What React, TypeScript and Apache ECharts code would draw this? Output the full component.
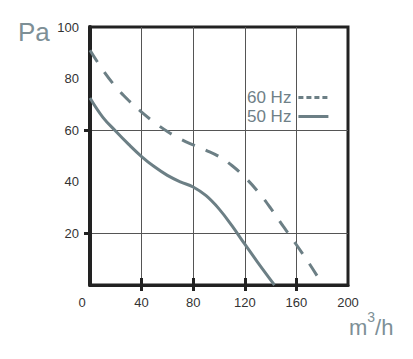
import React, { useEffect, useRef } from "react";
import * as echarts from "echarts";

const xTicks = [0, 40, 80, 120, 160, 200];
const seriesNames = ["60 Hz", "50 Hz"];
const hz60: [number, number][] = [
  [0, 91], [10, 83.3], [20, 76.8], [30, 71.5], [40, 67], [50, 63], [60, 59.5],
  [70, 56.6], [80, 54.3], [90, 52.2], [100, 49.8], [110, 46.3], [120, 41.8],
  [130, 36.3], [140, 29.8], [150, 22.6], [160, 15.6], [170, 8.3], [180.5, 0],
];
const hz50: [number, number][] = [
  [0, 72.5], [10, 65], [20, 59.6], [30, 54.5], [40, 49.8], [50, 45.8], [60, 42.5],
  [70, 40], [80, 38], [90, 34.6], [100, 29.5], [110, 23], [120, 15.8],
  [130, 8.8], [140, 2], [143, 0],
];
const yTickMarks = [20, 60];
const xTickMarks = [40, 80, 120, 160];

const FONT = "'Liberation Sans', Arial, sans-serif";
const CURVE = "#6c7f85";

export default function App() {
  const ref = useRef<HTMLDivElement>(null);
  useEffect(() => {
    const chart = echarts.init(ref.current!, null, { renderer: "svg" });
    chart.setOption({
      animation: false,
      backgroundColor: "#ffffff",
      grid: {
        left: 90, top: 27, width: 258, height: 258,
        show: true, borderColor: "#222", borderWidth: 3,
      },
      legend: {
        orient: "vertical", left: 242, top: 84, align: "right",
        itemWidth: 30, itemHeight: 12, itemGap: 2,
        itemStyle: { opacity: 0 },
        textStyle: { fontFamily: FONT, fontSize: 17, color: "#6f8087", padding: [0, 2, 0, 0] },
        data: [
          { name: seriesNames[0], lineStyle: { type: [5, 3], width: 3 } },
          { name: seriesNames[1], lineStyle: { width: 3 } },
        ],
      },
      xAxis: [
        {
          type: "value", min: 0, max: 200, interval: 40,
          axisLine: { show: true, lineStyle: { color: "#222", width: 3 } },
          axisTick: { show: true, inside: true, length: 7, lineStyle: { color: "#222", width: 3 }, customValues: xTickMarks },
          splitLine: { show: true, lineStyle: { color: "#555", width: 1 } },
          axisLabel: {
            margin: 11, fontFamily: FONT, fontSize: 13, color: "#333",
            customValues: xTicks,
            formatter: (v: number) => (v === 0 ? "{z|0}" : String(v)),
            rich: { z: { fontFamily: FONT, fontSize: 13, color: "#333", padding: [0, 16, 0, 0] } },
          },
        },
        {
          type: "value", min: 0, max: 200, interval: 40, position: "bottom",
          axisLine: { show: false },
          axisTick: { show: true, inside: false, length: 6, lineStyle: { color: "#222", width: 3 }, customValues: xTickMarks },
          splitLine: { show: false },
          axisLabel: { show: false },
        },
      ],
      yAxis: {
        type: "value", min: 0, max: 100, interval: 20,
        axisLine: { show: true, lineStyle: { color: "#222", width: 4 } },
        axisTick: { show: true, length: 6, lineStyle: { color: "#222", width: 3 }, customValues: yTickMarks },
        splitLine: { show: true, lineStyle: { color: "#555", width: 1 } },
        axisLabel: { margin: 11, fontFamily: FONT, fontSize: 13, color: "#333", showMinLabel: false },
      },
      series: [
        {
          name: seriesNames[0], type: "line", data: hz60, smooth: 0.4, symbol: "none",
          lineStyle: { color: CURVE, width: 3, type: [14, 12] }, itemStyle: { color: CURVE },
        },
        {
          name: seriesNames[1], type: "line", data: hz50, smooth: 0.4, symbol: "none",
          lineStyle: { color: CURVE, width: 3 }, itemStyle: { color: CURVE },
        },
      ],
      graphic: [
        {
          type: "text", left: 18, top: 19,
          style: { text: "Pa", fontFamily: FONT, fontSize: 26, fill: "#7d8f96" },
        },
        {
          type: "text", left: 349, top: 310,
          style: {
            text: "{a|m}{b|3}{a|/h}",
            rich: {
              a: { fontFamily: FONT, fontSize: 22, fill: "#7d8f96", color: "#7d8f96", verticalAlign: "bottom", lineHeight: 28 },
              b: { fontFamily: FONT, fontSize: 14, fill: "#7d8f96", color: "#7d8f96", verticalAlign: "top", lineHeight: 28, padding: [0, 0, 12, 0] },
            },
          },
        },
      ],
    });
    return () => chart.dispose();
  }, []);
  return <div ref={ref} style={{ position: "fixed", left: 0, top: 0, width: 413, height: 359 }} />;
}
